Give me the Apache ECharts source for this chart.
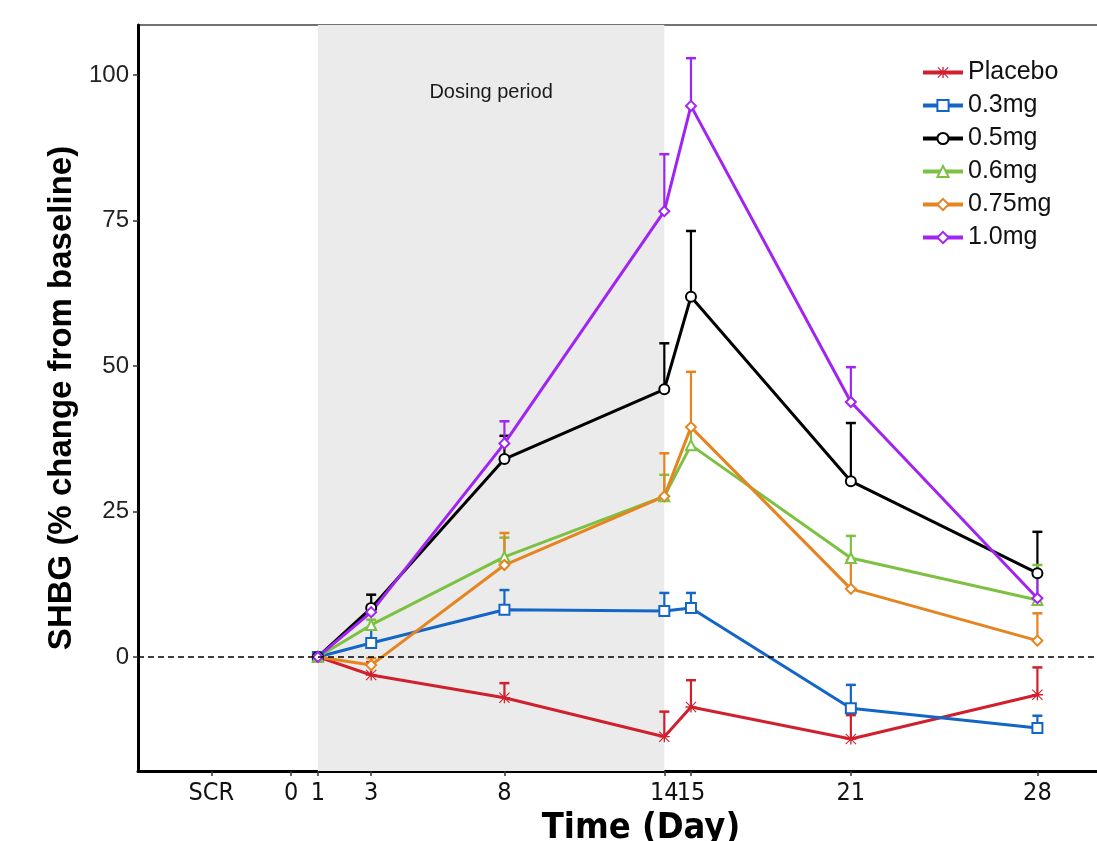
<!DOCTYPE html>
<html>
<head>
<meta charset="utf-8">
<script src="https://cdn.jsdelivr.net/npm/echarts@6/dist/echarts.min.js"></script>
<style>
  html, body { margin: 0; padding: 0; background: #fff; }
  #chart { width: 1097px; height: 841px; }
</style>
</head>
<body>
<div id="chart"></div>
<script>
// time points (days) and x tick values (-3 = screening)
var days = [1, 3, 8, 14, 15, 21, 28];
var xTicks = [-3, 0, 1, 3, 8, 14, 15, 21, 28];
var yTicks = [0, 25, 50, 75, 100];
var groups = ['Placebo', '0.3mg', '0.5mg', '0.6mg', '0.75mg', '1.0mg'];

// mean % change and top of error bar, per group
var placeboMean = [0, -3.1, -7.0, -13.7, -8.6, -14.1, -6.5];
var placeboTop  = [0, -0.9, -4.5, -9.4, -4.0, -10.0, -1.8];
var mg03Mean = [0, 2.4, 8.1, 7.9, 8.4, -8.8, -12.2];
var mg03Top  = [0, 4.8, 11.5, 11.0, 11.0, -4.8, -10.1];
var mg05Mean = [0, 8.4, 34.0, 46.0, 61.9, 30.2, 14.4];
var mg05Top  = [0, 10.7, 38.0, 53.9, 73.2, 40.2, 21.5];
var mg06Mean = [0, 5.5, 17.2, 27.6, 36.4, 17.0, 9.8];
var mg06Top  = [0, 6.4, 20.5, 31.3, 39.5, 20.8, 15.8];
var mg075Mean = [0, -1.4, 15.8, 27.6, 39.5, 11.7, 2.8];
var mg075Top  = [0, -0.2, 21.3, 35.0, 49.0, 16.7, 7.5];
var mg10Mean = [0, 7.7, 36.7, 76.6, 94.7, 43.8, 10.1];
var mg10Top  = [0, 8.9, 40.5, 86.4, 102.9, 49.8, 14.6];

var means = [placeboMean, mg03Mean, mg05Mean, mg06Mean, mg075Mean, mg10Mean];
var tops = [placeboTop, mg03Top, mg05Top, mg06Top, mg075Top, mg10Top];
var colors = ['#d0202e', '#1466c6', '#000000', '#7dc142', '#e68420', '#a224f2'];
var asterisk = 'path://M0,0.7L0.7,0L10,9.3L9.3,10Z M10,0.7L0.7,10L0,9.3L9.3,0Z M4.4,0h1.2v10h-1.2Z M0,4.4h10v1.2h-10Z';
var symbols = [asterisk, 'emptyRect', 'emptyCircle', 'emptyTriangle', 'emptyDiamond', 'emptyDiamond'];

var sansFont = "'Liberation Sans', Arial, sans-serif";
var narrowFont = "'Liberation Sans Narrow', 'DejaVu Sans Condensed', sans-serif";

var chart = echarts.init(document.getElementById('chart'));

function errBar(color) {
  return function(params, api) {
    var x = api.value(0), m = api.value(1), u = api.value(2);
    if (u === m) return null;
    var p0 = api.coord([x, m]), p1 = api.coord([x, u]);
    var w = 5;
    return {
      type: 'group',
      children: [
        { type: 'line', shape: { x1: p0[0], y1: p0[1], x2: p1[0], y2: p1[1] }, style: { stroke: color, lineWidth: 2.2 } },
        { type: 'line', shape: { x1: p1[0] - w, y1: p1[1], x2: p1[0] + w, y2: p1[1] }, style: { stroke: color, lineWidth: 2.5 } }
      ]
    };
  };
}

var series = [];
// background: dosing period shade and zero reference line
series.push({
  type: 'line', data: [], z: 1, silent: true,
  markArea: {
    silent: true,
    itemStyle: { color: '#ebebeb' },
    label: { show: true, position: 'insideTop', distance: 57, fontSize: 20, color: '#1a1a1a', fontFamily: sansFont },
    data: [[{ xAxis: 1, name: 'Dosing period' }, { xAxis: 14 }]]
  },
  markLine: {
    silent: true, symbol: 'none',
    lineStyle: { color: '#000', type: [6, 4], width: 1.5 },
    label: { show: false },
    data: [{ yAxis: 0 }]
  }
});

groups.forEach(function(g, k) {
  series.push({
    type: 'custom', z: 3, silent: true,
    renderItem: errBar(colors[k]),
    encode: { x: 0, y: [1, 2] },
    data: days.map(function(d, i) { return [d, means[k][i], tops[k][i]]; })
  });
});
groups.forEach(function(g, k) {
  series.push({
    name: g, type: 'line', z: 4,
    symbol: symbols[k], symbolSize: k === 0 ? 11 : 10,
    lineStyle: { color: colors[k], width: 3 },
    itemStyle: { color: colors[k], borderWidth: 1.5 },
    data: days.map(function(d, i) { return [d, means[k][i]]; })
  });
});

chart.setOption({
  animation: false,
  grid: {
    left: 138, top: 25, bottom: 70, right: -47, outerBoundsMode: 'none', containLabel: false,
    show: true, borderColor: '#444', borderWidth: 1.5, backgroundColor: 'transparent'
  },
  legend: {
    data: groups, orient: 'vertical', left: 916, top: 55,
    itemWidth: 40, itemHeight: 14, itemGap: 8,
    lineStyle: { width: 4 },
    textStyle: { fontSize: 25, color: '#111', fontFamily: sansFont }
  },
  xAxis: {
    type: 'value', min: -5.75, max: 32,
    name: 'Time (Day)', nameLocation: 'middle', nameGap: 37,
    nameTextStyle: { fontSize: 36, fontWeight: 'bold', color: '#000', fontFamily: narrowFont },
    axisLine: { show: true, onZero: false, lineStyle: { color: '#000', width: 3 } },
    axisTick: { show: true, length: 5, customValues: xTicks, lineStyle: { color: '#333', width: 1.5 } },
    axisLabel: {
      customValues: xTicks, margin: 10, fontSize: 25, color: '#111', fontFamily: narrowFont,
      formatter: function(v) { return v === -3 ? 'SCR' : String(v); }
    },
    splitLine: { show: false }
  },
  yAxis: {
    type: 'value', min: -19.6, max: 108.6,
    name: 'SHBG (% change from baseline)', nameLocation: 'middle', nameGap: 60,
    nameTextStyle: { fontSize: 33, fontWeight: 'bold', color: '#000', fontFamily: sansFont },
    axisLine: { show: true, onZero: false, lineStyle: { color: '#000', width: 3 } },
    axisTick: { show: true, length: 5, customValues: yTicks, lineStyle: { color: '#333', width: 1.5 } },
    axisLabel: { customValues: yTicks, margin: 9, fontSize: 24, color: '#222', fontFamily: sansFont },
    splitLine: { show: false }
  },
  series: series
});
</script>
</body>
</html>
